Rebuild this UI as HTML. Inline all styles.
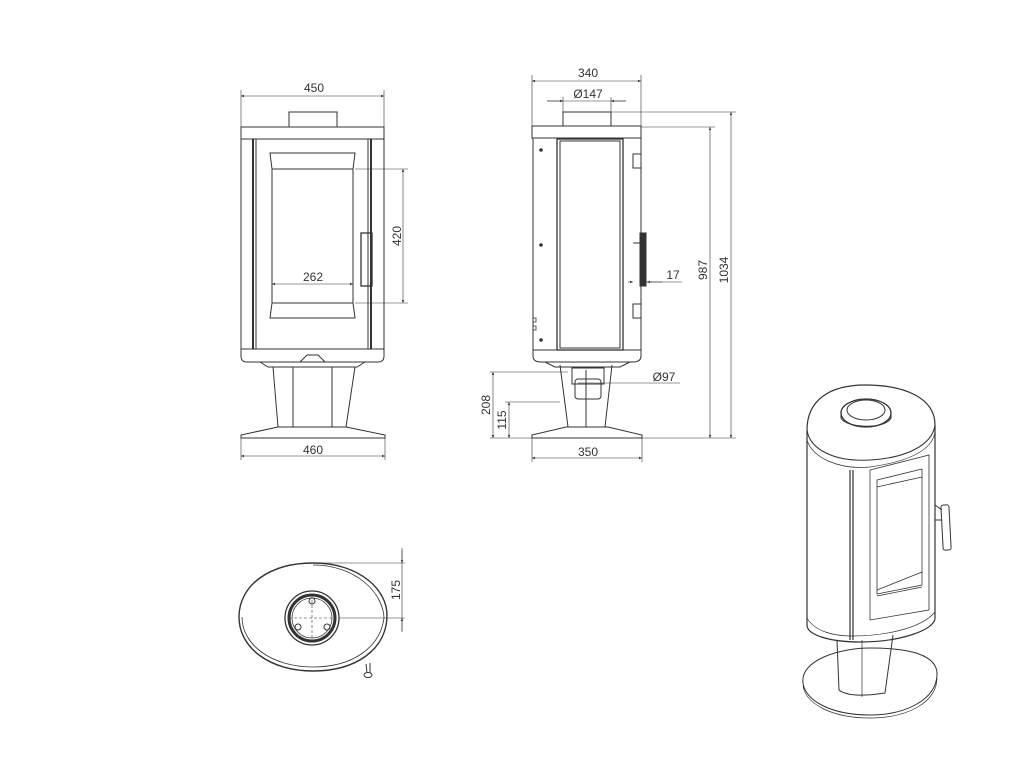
<!DOCTYPE html>
<html><head><meta charset="utf-8"><style>
html,body{margin:0;padding:0;background:#fff}
svg{display:block}
text{font-family:"Liberation Sans",sans-serif;font-size:12px;fill:#333}
</style></head><body>
<svg width="1024" height="768" viewBox="0 0 1024 768" xmlns="http://www.w3.org/2000/svg">
<defs>
<marker id="a" viewBox="0 0 10 10" refX="10" refY="5" markerWidth="7" markerHeight="5" orient="auto-start-reverse"><path d="M0,1 L10,5 L0,9 z" fill="#333"/></marker>
</defs>
<g fill="none" stroke="#333" stroke-width="1">
<!-- FRONT VIEW -->
<line x1="241" y1="90" x2="241" y2="127" stroke-width=".6"/>
<line x1="384" y1="90" x2="384" y2="127" stroke-width=".6"/>
<line x1="241" y1="96" x2="384" y2="96" stroke-width=".6" marker-start="url(#a)" marker-end="url(#a)"/>
<rect x="289" y="112" width="48" height="15"/>
<rect x="241" y="127" width="143" height="12"/>
<rect x="241" y="139" width="143" height="210"/>
<line x1="253" y1="139" x2="253" y2="349" stroke-width="2"/>
<line x1="256" y1="139" x2="256" y2="349"/>
<line x1="368" y1="139" x2="368" y2="349"/>
<line x1="371" y1="139" x2="371" y2="349" stroke-width="2"/>
<path d="M270,153 H355 L353,169 H272 Z"/>
<path d="M272,303 H353 L355,318 H270 Z"/>
<line x1="272" y1="169" x2="272" y2="303"/><line x1="353" y1="169" x2="353" y2="303"/>
<rect x="361" y="233" width="11" height="53" stroke-width="1.3"/>
<path d="M241,349 H384 V356 Q384,362 378,362 H247 Q241,362 241,356 Z"/>
<path d="M260,362 L268,367 H357 L365,362"/>
<path d="M300,362 L307,355 H318 L325,362"/>
<path d="M273,367 L278,427 M355,367 L346,427 M293,367 V427 M332,367 V427"/>
<path d="M278,427 H346 L385,435 V438 H241 V435 Z"/>
<line x1="241" y1="438" x2="241" y2="460" stroke-width=".6"/>
<line x1="385" y1="438" x2="385" y2="460" stroke-width=".6"/>
<line x1="241" y1="456" x2="385" y2="456" stroke-width=".6" marker-start="url(#a)" marker-end="url(#a)"/>
<line x1="355" y1="169" x2="408" y2="169" stroke-width=".6"/>
<line x1="355" y1="303" x2="408" y2="303" stroke-width=".6"/>
<line x1="403" y1="169" x2="403" y2="303" stroke-width=".6" marker-start="url(#a)" marker-end="url(#a)"/>
<line x1="272" y1="284" x2="353" y2="284" stroke-width=".6" marker-start="url(#a)" marker-end="url(#a)"/>

<!-- SIDE VIEW -->
<line x1="532" y1="75" x2="532" y2="126" stroke-width=".6"/>
<line x1="641" y1="75" x2="641" y2="126" stroke-width=".6"/>
<line x1="532" y1="81" x2="641" y2="81" stroke-width=".6" marker-start="url(#a)" marker-end="url(#a)"/>
<line x1="563" y1="97" x2="563" y2="112" stroke-width=".6"/>
<line x1="611" y1="97" x2="611" y2="112" stroke-width=".6"/>
<line x1="547" y1="101" x2="626" y2="101" stroke-width=".6"/>
<line x1="547" y1="101" x2="563" y2="101" stroke-width=".6" marker-end="url(#a)"/>
<line x1="626" y1="101" x2="611" y2="101" stroke-width=".6" marker-end="url(#a)"/>
<rect x="563" y="112" width="48" height="14"/>
<rect x="532" y="126" width="109" height="12"/>
<rect x="533" y="138" width="108" height="212"/>
<rect x="557" y="139" width="66" height="211" stroke-width="1.3"/>
<rect x="560" y="141" width="60" height="207"/>
<path d="M533,340 v-10 h3 v-4 h-3 v-4 h3 v-4 h-3" stroke-width=".8"/>
<circle cx="541" cy="150" r="1.3" fill="#333"/><circle cx="541" cy="245" r="1.3" fill="#333"/><circle cx="541" cy="340" r="1.3" fill="#333"/>
<rect x="633" y="154" width="8" height="14"/>
<rect x="633" y="304" width="8" height="14"/>
<rect x="640" y="233" width="6" height="53" fill="#333"/>
<line x1="633" y1="243" x2="640" y2="243"/>
<path d="M533,350 H641 V356 Q641,362 633,362 H541 Q533,362 533,356 Z"/>
<path d="M545,362 L555,367 H620 L630,362"/>
<path d="M560,365 L568,427 M612,365 L605,427 M586,370 V427"/>
<rect x="572" y="368" width="32" height="16"/>
<rect x="575" y="379" width="26" height="20" rx="3"/>
<path d="M566,427 H608 L642,435 V438 H532 V435 Z"/>
<line x1="532" y1="438" x2="532" y2="462" stroke-width=".6"/>
<line x1="642" y1="438" x2="642" y2="462" stroke-width=".6"/>
<line x1="532" y1="458" x2="642" y2="458" stroke-width=".6" marker-start="url(#a)" marker-end="url(#a)"/>
<line x1="611" y1="112" x2="736" y2="112" stroke-width=".6"/>
<line x1="641" y1="127" x2="715" y2="127" stroke-width=".6"/>
<line x1="642" y1="438" x2="736" y2="438" stroke-width=".6"/>
<line x1="710" y1="127" x2="710" y2="438" stroke-width=".6" marker-start="url(#a)" marker-end="url(#a)"/>
<line x1="731" y1="112" x2="731" y2="438" stroke-width=".6" marker-start="url(#a)" marker-end="url(#a)"/>
<line x1="646" y1="282" x2="682" y2="282" stroke-width=".6"/>
<line x1="662" y1="282" x2="647" y2="282" stroke-width=".6" marker-end="url(#a)"/>
<line x1="628" y1="282" x2="633" y2="282" stroke-width=".6" marker-end="url(#a)"/>
<line x1="578" y1="383" x2="680" y2="383" stroke-width=".6"/>
<line x1="490" y1="372" x2="568" y2="372" stroke-width=".6"/>
<line x1="490" y1="438" x2="532" y2="438" stroke-width=".6"/>
<line x1="505" y1="402" x2="560" y2="402" stroke-width=".6"/>
<line x1="493" y1="372" x2="493" y2="438" stroke-width=".6" marker-start="url(#a)" marker-end="url(#a)"/>
<line x1="509" y1="402" x2="509" y2="438" stroke-width=".6" marker-start="url(#a)" marker-end="url(#a)"/>

<!-- BOTTOM VIEW -->
<path d="M313,563 C360,563 387,590 387,615 C387,650 355,671 313,671 C270,671 239,648 239,617 C239,585 270,563 313,563 Z" stroke-width="1.4"/>
<path d="M313,565 C355,565 383,592 384,618 C380,648 352,667 313,667 C272,667 242,645 242,617" stroke-width=".8"/>
<circle cx="312" cy="618" r="27" stroke-width="1.3"/>
<circle cx="312" cy="618" r="23" stroke-width="3"/>
<circle cx="312" cy="618" r="20" stroke-width=".8"/>
<circle cx="312" cy="601" r="3"/><circle cx="298" cy="627" r="3"/><circle cx="327" cy="627" r="3"/>
<line x1="312" y1="595" x2="312" y2="641" stroke-dasharray="3,2" stroke-width=".6"/>
<line x1="289" y1="618" x2="335" y2="618" stroke-dasharray="3,2" stroke-width=".6"/>
<path d="M366,664 L367,673 M370,663 L370,673"/>
<ellipse cx="368" cy="675" rx="4" ry="2.5"/>
<line x1="313" y1="563" x2="405" y2="563" stroke-width=".6"/>
<line x1="339" y1="618" x2="405" y2="618" stroke-width=".6"/>
<line x1="402" y1="548" x2="402" y2="632" stroke-width=".6"/>
<line x1="402" y1="550" x2="402" y2="563" stroke-width=".6" marker-end="url(#a)"/>
<line x1="402" y1="631" x2="402" y2="618" stroke-width=".6" marker-end="url(#a)"/>

<!-- PERSPECTIVE -->
<path d="M803,683 C800,660 840,648 870,648 C910,648 938,655 937,675 C936,700 905,715 870,715 C830,715 805,700 803,683 Z"/>
<path d="M803,686 C806,704 832,718 870,718 C908,718 937,702 937,678" stroke-width=".7"/>
<path d="M837,640 L839,690 C845,695 860,697 885,693 L893,635"/>
<line x1="862" y1="640" x2="862" y2="697" stroke-width=".7"/>
<path d="M807,430 C807,400 830,385 865,385 C905,385 935,398 935,425 L935,618 C935,630 900,642 860,642 C830,642 807,635 807,625 Z" stroke-width="1.2"/>
<path d="M807,430 C810,450 835,462 870,460 C905,458 932,446 935,425" />
<path d="M807,440 C812,458 840,470 870,467 C905,462 932,452 935,432" stroke-width=".7"/>
<path d="M807,618 C815,632 835,636 852,636 C880,636 920,630 935,612" stroke-width=".7"/>
<path d="M850,470 L850,640 M853,470 L853,640" stroke-width="1.2"/>
<path d="M870,470 L870,620 M870,470 L929,455 V610 L870,620" stroke-width=".8"/>
<path d="M877,480 L922,469 V585 L877,594 Z M877,487 L922,477" stroke-width=".8"/>
<path d="M877,590 L922,572 M877,596 L922,587" stroke-width=".8"/>
<rect x="942" y="505" width="8" height="45" rx="2" transform="rotate(-3 946 527)"/>
<path d="M935,505 L942,510 M935,520 L942,520"/>
<ellipse cx="866" cy="413" rx="25" ry="14" stroke-width="1.3"/>
<ellipse cx="866" cy="410" rx="19" ry="10"/>
<path d="M841,413 V418 C845,428 885,430 891,418 V413"/>
</g>
<g>
<text x="314" y="92" text-anchor="middle">450</text>
<text x="313" y="281" text-anchor="middle">262</text>
<text x="313" y="454" text-anchor="middle">460</text>
<text transform="translate(401,236) rotate(-90)" text-anchor="middle">420</text>
<text x="588" y="77" text-anchor="middle">340</text>
<text x="588" y="98" text-anchor="middle">Ø147</text>
<text x="673" y="279" text-anchor="middle">17</text>
<text x="664" y="381" text-anchor="middle">Ø97</text>
<text x="588" y="456" text-anchor="middle">350</text>
<text transform="translate(707,270) rotate(-90)" text-anchor="middle">987</text>
<text transform="translate(728,270) rotate(-90)" text-anchor="middle">1034</text>
<text transform="translate(490,405) rotate(-90)" text-anchor="middle">208</text>
<text transform="translate(506,420) rotate(-90)" text-anchor="middle">115</text>
<text transform="translate(400,590) rotate(-90)" text-anchor="middle">175</text>
</g>
</svg>
</body></html>
